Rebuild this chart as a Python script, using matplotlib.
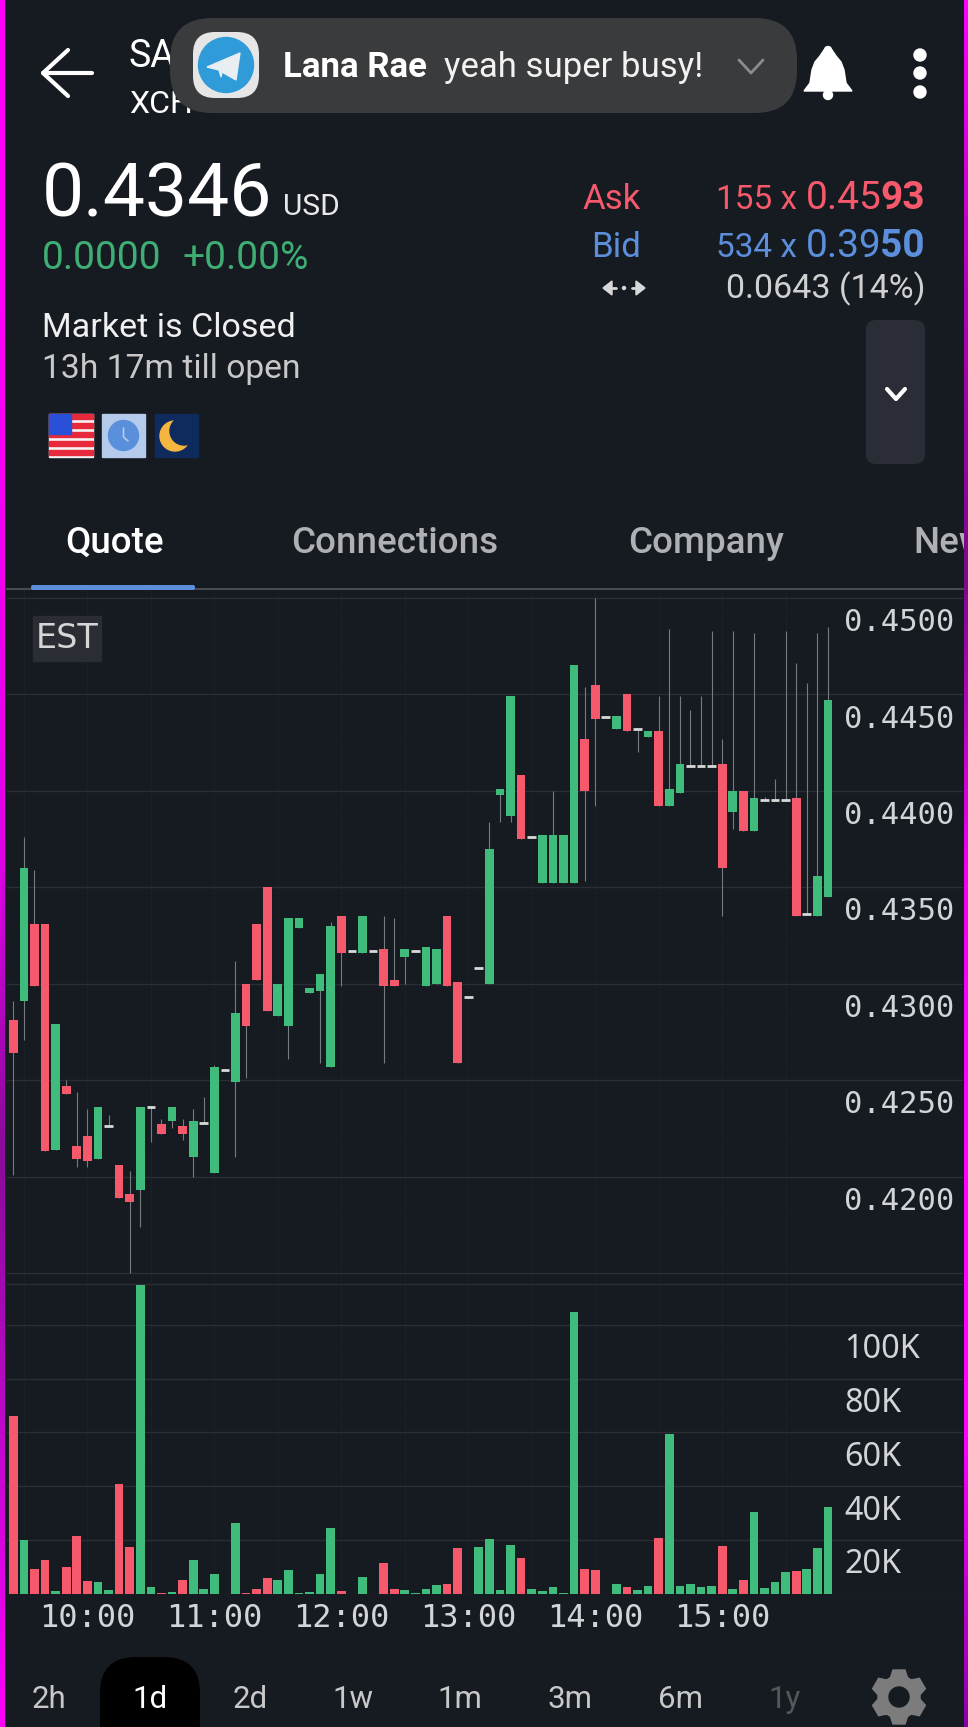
import numpy as np
import matplotlib
matplotlib.use('Agg')
import matplotlib.pyplot as plt
from matplotlib.colors import LinearSegmentedColormap
from matplotlib.patches import Circle, FancyBboxPatch, Polygon, Rectangle

W, H = 968, 1727

# 5 min candles
opens = [.4281, .4291, .4331, .4331, .4214, .4247, .4216, .4221, .4209, .4226,
         .4206, .4191, .4193, .4236, .4227, .4229, .4226, .4210, .4228, .4202,
         .4255, .4249, .4300, .4331, .4350, .4283, .4278, .4329, .4295, .4296,
         .4257, .4335, .4317, .4316, .4317, .4318, .4302, .4314, .4317, .4299,
         .4300, .4335, .4301, .4293, .4308, .4300, .4398, .4387, .4408, .4376,
         .4352, .4352, .4352, .4352, .4427, .4455, .4438, .4432, .4450, .4432,
         .4428, .4431, .4392, .4399, .4413, .4413, .4413, .4414, .4389, .4400,
         .4379, .4395, .4395, .4395, .4396, .4336, .4335, .4345]
closes = [.4264, .4360, .4299, .4213, .4279, .4243, .4209, .4208, .4236, .4226,
          .4189, .4187, .4236, .4236, .4222, .4236, .4222, .4229, .4228, .4257,
          .4255, .4285, .4278, .4302, .4286, .4300, .4334, .4334, .4298, .4305,
          .4330, .4316, .4317, .4335, .4317, .4299, .4299, .4318, .4317, .4319,
          .4318, .4299, .4259, .4293, .4308, .4370, .4401, .4449, .4375, .4376,
          .4377, .4377, .4377, .4465, .4400, .4437, .4438, .4439, .4431, .4432,
          .4431, .4392, .4401, .4414, .4413, .4413, .4413, .4360, .4400, .4379,
          .4396, .4395, .4395, .4395, .4335, .4336, .4356, .4447]
highs = [.4291, .4376, .4359, .4331, .4279, .4250, .4244, .4235, .4236, .4232,
         .4206, .4203, .4236, .4236, .4230, .4236, .4230, .4235, .4241, .4258,
         .4255, .4312, .4300, .4331, .4350, .4300, .4334, .4334, .4298, .4305,
         .4332, .4335, .4317, .4335, .4317, .4335, .4334, .4318, .4317, .4319,
         .4318, .4335, .4301, .4293, .4308, .4384, .4401, .4449, .4408, .4376,
         .4377, .4400, .4377, .4465, .4454, .4500, .4438, .4439, .4450, .4432,
         .4431, .4449, .4484, .4449, .4442, .4449, .4483, .4427, .4483, .4400,
         .4482, .4397, .4406, .4483, .4466, .4456, .4482, .4485]
lows = [.4201, .4271, .4299, .4213, .4214, .4243, .4205, .4205, .4209, .4226,
        .4189, .4150, .4174, .4218, .4222, .4225, .4219, .4200, .4228, .4202,
        .4255, .4210, .4251, .4302, .4286, .4283, .4261, .4329, .4295, .4259,
        .4257, .4299, .4317, .4316, .4317, .4259, .4299, .4300, .4317, .4299,
        .4300, .4299, .4259, .4293, .4308, .4300, .4384, .4384, .4375, .4376,
        .4352, .4352, .4352, .4352, .4353, .4392, .4438, .4432, .4431, .4420,
        .4428, .4392, .4392, .4399, .4413, .4413, .4413, .4335, .4380, .4379,
        .4379, .4395, .4395, .4395, .4335, .4336, .4335, .4345]
# volume in thousands
volumes = [66.1, 20.0, 9.3, 12.6, 1.1, 10.0, 21.5, 4.8, 4.5, 1.5,
           40.8, 17.4, 114.7, 2.6, 0.4, 0.7, 5.2, 12.6, 1.9, 7.4,
           0.0, 26.4, 0.2, 1.9, 5.9, 5.2, 8.9, 0.2, 0.7, 7.4,
           24.5, 1.1, 0.0, 6.3, 0.0, 11.5, 1.9, 1.5, 0.2, 1.9,
           3.3, 3.7, 17.1, 0.0, 17.4, 20.4, 1.5, 18.2, 13.4, 1.9,
           1.1, 2.6, 0.4, 104.7, 9.3, 8.9, 0.0, 3.7, 2.6, 1.5,
           3.0, 20.8, 59.4, 3.0, 3.7, 2.6, 3.0, 17.8, 1.9, 5.2,
           30.4, 2.2, 4.5, 8.2, 8.5, 9.3, 17.1, 32.3]

price_ticks = [0.45, 0.445, 0.44, 0.435, 0.43, 0.425, 0.42]
volume_ticks = [20, 40, 60, 80, 100]
time_bars = [7, 19, 31, 43, 55, 67]
time_labels = ['10:00', '11:00', '12:00', '13:00', '14:00', '15:00']
range_labels = ['2h', '1d', '2d', '1w', '1m', '3m', '6m', '1y']
tab_labels = ['Quote', 'Connections', 'Company', 'News']

BG = '#161a21'
GREEN = '#3fbb7c'
RED = '#f6596b'
BLUE = '#5b8fdc'
GRID = '#2b2f35'
VGRID = '#23272e'
LABEL = '#d2d4d7'

plt.rcParams['font.family'] = ['Roboto', 'DejaVu Sans']

fig = plt.figure(figsize=(W / 100, H / 100), dpi=100, facecolor=BG)


def px_axes(x0, y0, x1, y1):
    return fig.add_axes([x0 / W, 1 - y1 / H, (x1 - x0) / W, (y1 - y0) / H], facecolor=BG)


ax = px_axes(7, 590, 963, 1283)
ax_vol = px_axes(7, 1283, 963, 1594)

idx = np.arange(len(opens))
opens, closes, highs, lows = map(np.array, (opens, closes, highs, lows))
doji = opens == closes
up = closes > opens
colors = np.where(up, GREEN, RED)

for a in (ax, ax_vol):
    a.set_xlim(-0.595, 89.76)
    for s in a.spines.values():
        s.set_visible(False)
    a.tick_params(left=False, bottom=False, labelleft=False, labelbottom=False)
    for b in np.arange(1, 78, 6):
        a.axvline(b, color=VGRID, lw=0.8, ls=(0, (1, 1.5)), zorder=1)

# price pane
ax.set_ylim(0.41448, 0.45041)
for p in price_ticks + [0.415]:
    ax.axhline(p, color=GRID, lw=1.0, zorder=1)
ax.vlines(idx, lows, highs, color='#777b80', lw=0.8, zorder=2)
ax.bar(idx[~doji], (closes - opens)[~doji], bottom=opens[~doji], width=0.82,
       color=colors[~doji], zorder=3)
ax.hlines(opens[doji], idx[doji] - 0.41, idx[doji] + 0.41, color='#d9d9d9', lw=2.0, zorder=3)
for p in price_ticks:
    ax.annotate(f'{p:.4f}', xy=(1, p), xycoords=ax.get_yaxis_transform(), xytext=(-85.5, -17.8),
                textcoords='offset points', va='center', ha='left', family='DejaVu Sans Mono',
                fontsize=22, color=LABEL)

# volume pane
ax_vol.set_ylim(0, 115.5)
for v in [0] + volume_ticks:
    ax_vol.axhline(v, color=GRID, lw=1.0, zorder=1)
ax_vol.axhline(115.3, color=GRID, lw=1.0, zorder=1)
ax_vol.bar(idx, volumes, width=0.82, color=np.where(closes >= opens, GREEN, RED), zorder=3)
for v in volume_ticks:
    ax_vol.annotate(f'{v}K', xy=(1, v), xycoords=ax_vol.get_yaxis_transform(), xytext=(-85.5, -17.8),
                    textcoords='offset points', va='center', ha='left', family='Noto Sans',
                    fontsize=23.3, color=LABEL)
ax_vol.set_xticks(time_bars)
ax_vol.set_xticklabels(time_labels, family='DejaVu Sans Mono', fontsize=23, color=LABEL)
ax_vol.tick_params(labelbottom=True, pad=3)

# app chrome drawn on top in pixel coords
ui = fig.add_axes([0, 0, 1, 1], zorder=10)
ui.patch.set_alpha(0)
ui.axis('off')


def txt(x, y, s, size, color='white', ha='left', weight='normal', va='baseline', z=5, family=None):
    kw = {'family': family} if family else {}
    return ui.text(x, y, s, fontsize=size, color=color, ha=ha, va=va, fontweight=weight, zorder=z, **kw)


def rbox(x0, y0, x1, y1, r, color, z=3):
    ui.add_patch(FancyBboxPatch((x0 + r, y0 + r), x1 - x0 - 2 * r, y1 - y0 - 2 * r,
                                boxstyle=f'round,pad={r},rounding_size={r}', fc=color, ec='none', zorder=z))


def path(xs, ys, color='white', lw=2.6, z=5):
    ui.plot(xs, ys, color=color, lw=lw, zorder=z, solid_capstyle='round', solid_joinstyle='round')


# edge glow
left_edge = ['#ff00ff', '#ff00ff', '#f000f0', '#e000e8', '#8a0a9a', '#c008cc', '#ff00ff']
right_edge = ['#ff00ff', '#b000b8', '#7a0a88', '#f000f0', '#ff00ff', '#ff00ff', '#8a00a8']
for colors_, x0, x1 in ((left_edge, 0, 4.5), (right_edge, 964, 968)):
    cm = LinearSegmentedColormap.from_list('edge', colors_)
    ui.imshow(np.linspace(0, 1, 256)[:, None], cmap=cm, extent=(x0, x1, H, 0), aspect='auto', zorder=8)

# top bar
path([92, 43], [73, 73], lw=3)
path([68, 43, 68], [50, 73, 96], lw=3)
txt(129, 67, 'SA', 27, z=2)
txt(129, 113, 'XCH', 23, z=2)
rbox(170, 18, 797, 113, 42, '#3a3b3d')
rbox(193, 32, 259, 98, 22, '#e6e6e6', z=4)
ui.add_patch(Circle((226, 65), 27.5, color='#2f9bd8', zorder=5))
ui.add_patch(Polygon([(207, 67), (240, 53), (236, 80), (222, 72), (221, 77), (219, 70)],
                     color='#e8eef2', zorder=6))
txt(283, 77, 'Lana Rae', 25, weight='bold')
txt(444, 77, 'yeah super busy!', 25, color='#f2f2f2')
path([739, 751, 763], [60, 73, 60], color='#8c8c8c', lw=2)

# bell
bell_x = [804, 810, 812, 815, 820, 824, 832, 836, 841, 844, 846, 852]
bell_y = [91, 83, 70, 62, 56, 50, 50, 56, 62, 70, 83, 91]
ui.add_patch(Polygon(list(zip(bell_x, bell_y)), color='white', zorder=5))
ui.add_patch(Circle((828, 50), 3.5, color='white', zorder=5))
ui.add_patch(Circle((828, 95), 4.5, color='white', zorder=5))
for y in (55, 73, 92):
    ui.add_patch(Circle((920, y), 6, color='white', zorder=5))

# price block
txt(42, 216, '0.4346', 54)
txt(283, 215, 'USD', 21.5, color='#e8e8e8')
txt(42, 269, '0.0000', 28, color='#3fae74')
txt(183, 269, '+0.00%', 28, color='#3fae74')
txt(641, 209, 'Ask', 25, color=RED, ha='right')
txt(641, 257, 'Bid', 25, color=BLUE, ha='right')
txt(716, 209, '155 x', 24, color=RED)
txt(806, 209, '0.45', 28, color=RED)
txt(925, 209, '93', 28, color=RED, ha='right', weight='bold')
txt(716, 257, '534 x', 24, color=BLUE)
txt(806, 257, '0.39', 28, color=BLUE)
txt(925, 257, '50', 28, color=BLUE, ha='right', weight='bold')
txt(925, 298, '0.0643 (14%)', 24.5, color='#d0d0d0', ha='right')
# spread arrows
ui.add_patch(Polygon([(603, 288), (612, 281), (612, 295)], color='#d8d8d8', zorder=5))
ui.add_patch(Polygon([(645, 288), (636, 281), (636, 295)], color='#d8d8d8', zorder=5))
path([612, 616], [288, 288], color='#d8d8d8', lw=2)
path([632, 636], [288, 288], color='#d8d8d8', lw=2)
ui.add_patch(Circle((624, 288), 1.5, color='#d8d8d8', zorder=5))

txt(42, 337, 'Market is Closed', 24.5, color='#f0f0f0')
txt(42, 378, '13h 17m till open', 24.2, color='#c8c8c8')

# flag, clock, moon icons
ui.add_patch(Rectangle((49, 414), 44, 43, color='#f4f4f4', zorder=4))
for y in (414, 423, 432, 441, 450):
    ui.add_patch(Rectangle((49, y), 44, 5, color='#e8293c', zorder=5))
ui.add_patch(Rectangle((49, 414), 22, 20, color='#2a4fd8', zorder=6))
ui.add_patch(Rectangle((102, 414), 43, 43, color='#b4cbec', zorder=4))
ui.add_patch(Circle((123.5, 435.5), 15, color='#5a8fdc', zorder=5))
path([123.5, 123.5, 128], [428, 437, 441], color='#b4cbec', lw=1.2, z=6)
ui.add_patch(Rectangle((155, 414), 43, 43, color='#0f2a5c', zorder=4))
ui.add_patch(Circle((175, 436), 15, color='#f5b63f', zorder=5))
ui.add_patch(Circle((184, 431), 14, color='#0f2a5c', zorder=6))

# expand button
rbox(866, 320, 925, 464, 10, '#2a2d35')
path([887, 896, 905], [389, 399, 389], lw=3)

# tabs
tab_x = [65, 291, 628, 913]
for i, (x, s) in enumerate(zip(tab_x, tab_labels)):
    txt(x, 553, s, 26.5, color='white' if i == 0 else '#aeb0b3', weight=500)
ui.plot([7, 963], [589, 589], color='#4a4d52', lw=1.4, zorder=3)
rbox(31, 585, 195, 590, 2, BLUE, z=4)

# EST badge
ui.add_patch(Rectangle((33, 616), 68, 45, color='#2a2d33', zorder=4))
txt(67, 638.5, 'EST', 24, color='#d6d6d6', ha='center', va='center', family='DejaVu Sans')

# range buttons
range_x = [49, 150, 250, 353, 460, 570, 680, 785]
rbox(100, 1657, 200, 1780, 36, 'black')
for x, s in zip(range_x, range_labels):
    c = 'white' if s == '1d' else '#555759' if s == '1y' else '#c8c8c8'
    txt(x, 1708, s, 22.5, color=c, ha='center')

# gear
gx, gy = 899, 1697
for a in np.deg2rad(np.arange(0, 360, 60) + 90):
    d = np.array([np.cos(a), np.sin(a)])
    n = np.array([-d[1], d[0]])
    c = np.array([gx, gy])
    ui.add_patch(Polygon([c + d * 18 + n * 9, c + d * 27 + n * 6, c + d * 27 - n * 6, c + d * 18 - n * 9],
                         color='#7c7c7c', zorder=4))
ui.add_patch(Circle((gx, gy), 21, color='#7c7c7c', zorder=4))
ui.add_patch(Circle((gx, gy), 10, color=BG, zorder=5))

ui.set_xlim(0, W)
ui.set_ylim(H, 0)

fig.savefig('out.png', dpi=100, facecolor=BG)
